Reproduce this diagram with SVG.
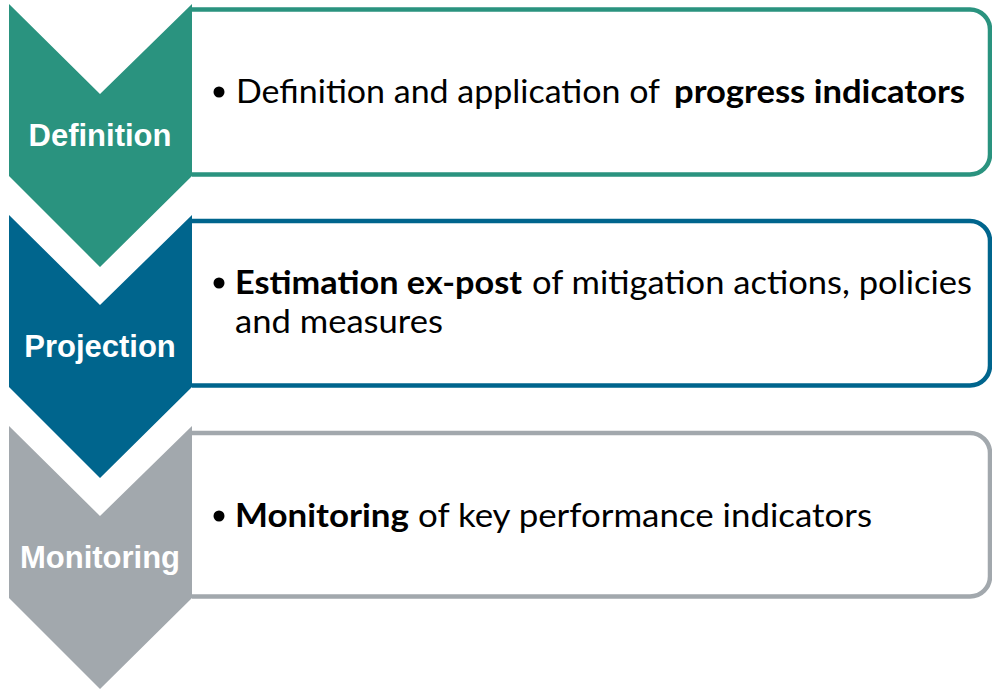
<svg xmlns="http://www.w3.org/2000/svg" width="992" height="689" viewBox="0 0 992 689">
<style>
.box{fill:#ffffff;stroke-width:4.5}
.lbl{font-family:"Liberation Sans",Arial,sans-serif;font-weight:bold;font-size:31px;fill:#ffffff;text-anchor:middle}
.t{font-family:Lato,"Open Sans",sans-serif;font-size:33px;fill:#000000}
.b{font-weight:bold}
.teal{fill:#2A937F}
.blue{fill:#00658D}
.gray{fill:#A2A8AD}
</style>
<rect width="992" height="689" fill="#ffffff"/>
<g id="connectors"/>
<g id="definition">
  <path class="box" d="M192,9.5 H970 A20,20 0 0 1 990,29.5 V154.5 A20,20 0 0 1 970,174.5 H192" stroke="#2A937F"/>
  <path class="teal" d="M9,4 L100,94 L192,4 L192,176 L100,267 L9,176 Z"/>
  <text class="lbl" x="100" y="146">Definition</text>
  <circle cx="219" cy="92" r="5.5" fill="#000"/>
  <text class="t" x="236" y="103" textLength="424" lengthAdjust="spacingAndGlyphs">Definition and application of</text>
  <text class="t b" x="674" y="103" textLength="291" lengthAdjust="spacingAndGlyphs">progress indicators</text>
</g>
<g id="projection">
  <path class="box" d="M192,221 H970 A20,20 0 0 1 990,241 V365.5 A20,20 0 0 1 970,385.5 H192" stroke="#00658D"/>
  <path class="blue" d="M9,215 L100,305 L192,215 L192,387 L100,478 L9,387 Z"/>
  <text class="lbl" x="100" y="357">Projection</text>
  <circle cx="219" cy="283" r="5.5" fill="#000"/>
  <text class="t b" x="235" y="294" textLength="287" lengthAdjust="spacingAndGlyphs">Estimation ex-post</text>
  <text class="t" x="532" y="294" textLength="440" lengthAdjust="spacingAndGlyphs">of mitigation actions, policies</text>
  <text class="t" x="235" y="333" textLength="208" lengthAdjust="spacingAndGlyphs">and measures</text>
</g>
<g id="monitoring">
  <path class="box" d="M192,433 H970 A20,20 0 0 1 990,453 V576.5 A20,20 0 0 1 970,596.5 H192" stroke="#A2A8AD"/>
  <path class="gray" d="M9,426 L100,516 L192,426 L192,598 L100,689 L9,598 Z"/>
  <text class="lbl" x="100" y="568">Monitoring</text>
  <circle cx="219" cy="516" r="5.5" fill="#000"/>
  <text class="t b" x="235" y="527" textLength="174" lengthAdjust="spacingAndGlyphs">Monitoring</text>
  <text class="t" x="418" y="527" textLength="454" lengthAdjust="spacingAndGlyphs">of key performance indicators</text>
</g>
</svg>
